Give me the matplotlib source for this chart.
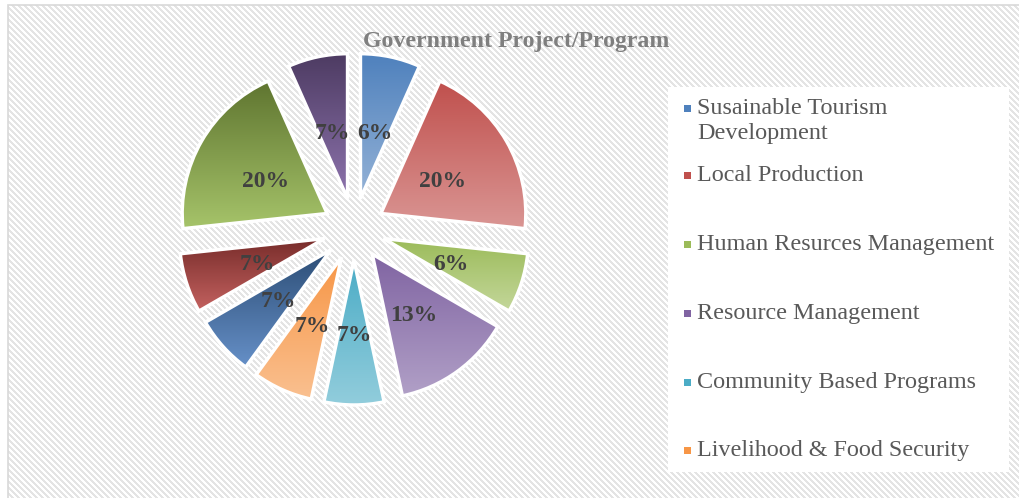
import matplotlib
matplotlib.use("Agg")
import matplotlib.pyplot as plt
import numpy as np
from matplotlib.colors import to_rgb
from matplotlib.patches import Rectangle

# ---- data ----
categories = ["Susainable Tourism Development", "Local Production",
              "Human Resurces Management", "Resource Management",
              "Community Based Programs", "Livelihood & Food Security",
              "Category 7", "Category 8", "Category 9", "Category 10"]
legend_labels = ["Susainable Tourism\nDevelopment", "Local Production",
                 "Human Resurces Management", "Resource Management",
                 "Community Based Programs", "Livelihood & Food Security"]
# slice sizes (equal small slices = 1 share)
shares = [1, 3, 1, 2, 1, 1, 1, 1, 3, 1]
# percentage labels as printed on the chart
pct_labels = ["6%", "20%", "6%", "13%", "7%", "7%", "7%", "7%", "20%", "7%"]
title = "Government Project/Program"

top_colors = ["#4F81BD", "#C0504D", "#9BBB59", "#8064A2", "#4BACC6",
              "#F79646", "#2C4D75", "#772C2A", "#5F7530", "#4D3B62"]
bottom_colors = ["#95B3D7", "#DA9694", "#C4D79B", "#B1A0C7", "#92CDDC",
                 "#FAC090", "#6690C8", "#C46260", "#A6C46A", "#8E74AE"]

W, H = 1019, 498
fig = plt.figure(figsize=(W / 100, H / 100), dpi=100)
ax = fig.add_axes([0, 0, 1, 1])
serif = ["Liberation Serif", "DejaVu Serif"]


def Y(y_img):
    return H - y_img


# ---- background: hatched chart area ----
yy, xx = np.mgrid[0:H, 0:W]
stripe = ((xx - yy) % 6) < 3
bg = np.ones((H, W, 3))
bg[stripe] = np.array(to_rgb("#E4E4E4"))
inside = (xx >= 8) & (yy >= 5)
bg[~inside] = 1.0
ax.imshow(bg, extent=(0, W, 0, H), origin="upper", zorder=0, interpolation="nearest")
ax.add_patch(Rectangle((8, -20), W + 40, Y(5) + 20, facecolor="none",
                       edgecolor="#D9D9D9", linewidth=1.2, zorder=1))

# ---- pie ----
label_iter = iter(pct_labels)
cx, cy, r = 354, Y(229), 145
wedges, texts, autotexts = ax.pie(
    shares, center=(cx, cy), radius=r, startangle=90, counterclock=False,
    explode=[31] * len(shares), autopct=lambda p: next(label_iter), pctdistance=0.49,
    wedgeprops=dict(edgecolor="white", linewidth=2.5, facecolor="none"),
    textprops=dict(family=serif, fontsize=17, fontweight="bold", color="#404040"),
    frame=False)

for w, ctop, cbot in zip(wedges, top_colors, bottom_colors):
    w.set_zorder(3)
    ext = w.get_path().transformed(w.get_patch_transform()).get_extents()
    t = np.linspace(0, 1, 256)[:, None]
    c1, c2 = np.array(to_rgb(ctop)), np.array(to_rgb(cbot))
    grad = (1 - t)[:, :, None] * c1 + t[:, :, None] * c2
    grad = np.repeat(grad, 2, axis=1)
    im = ax.imshow(grad, extent=(ext.x0, ext.x1, ext.y0, ext.y1), origin="upper",
                   aspect="auto", zorder=2, interpolation="bilinear")
    im.set_clip_path(w)
for t_ in autotexts:
    t_.set_zorder(5)
    t_.set_y(t_.get_position()[1] - 4)

# ---- title ----
ax.text(516, Y(41), title, ha="center", va="center", family=serif,
        fontsize=17.2, fontweight="bold", color="#7F7F7F", zorder=6)

# ---- legend ----
ax.add_patch(Rectangle((668, Y(472)), 1009 - 668, 472 - 87, facecolor="white",
                       edgecolor="none", zorder=4))
legend_y = [108, 175, 244, 313, 382, 450]
line_step = 25
for lab, col, ly in zip(legend_labels, top_colors, legend_y):
    ax.add_patch(Rectangle((684, Y(ly) - 3.5), 7, 7, facecolor=col,
                           edgecolor="none", zorder=5))
    for k, line in enumerate(lab.split("\n")):
        ax.text(697, Y(ly + k * line_step), line, ha="left", va="center",
                family=serif, fontsize=17.4, color="#595959", zorder=6)

ax.set_xlim(0, W)
ax.set_ylim(0, H)
ax.set_aspect("auto")
ax.axis("off")
fig.savefig("out.png", dpi=100)
